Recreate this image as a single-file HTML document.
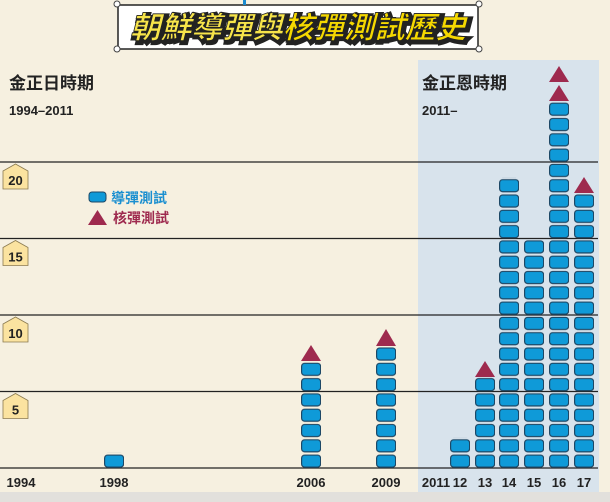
<!DOCTYPE html>
<html><head><meta charset="utf-8"><style>
html,body{margin:0;padding:0;background:#f6f0e0;}
svg{display:block;font-family:"Liberation Sans","Noto Sans CJK TC",sans-serif;}
</style></head><body>
<svg width="610" height="502" viewBox="0 0 610 502" xmlns="http://www.w3.org/2000/svg">
<defs>
<pattern id="blk" patternUnits="userSpaceOnUse" x="0" y="468" width="1000" height="15.3">
<rect x="0.6" y="2.4" width="19" height="12" rx="3" fill="#0f9ad8" stroke="#1d4866" stroke-width="1.2"/>
</pattern>
</defs>
<rect width="610" height="502" fill="#f6f0e0"/>
<rect x="0" y="492" width="610" height="10" fill="#e2e0dc"/>
<rect x="418" y="60" width="181" height="432" fill="#d8e3ec"/>
<!-- title -->
<rect x="118" y="5" width="360" height="44" fill="#fff" stroke="#222" stroke-width="1.5"/>
<g fill="#fff" stroke="#444" stroke-width="1"><circle cx="117" cy="4" r="3"/><circle cx="479" cy="4" r="3"/><circle cx="117" cy="49" r="3"/><circle cx="479" cy="49" r="3"/></g>
<rect x="243" y="0" width="3" height="5" fill="#1a8ad0"/>
<text x="300" y="40" text-anchor="middle" font-size="30" font-weight="bold" font-style="italic" fill="#222" stroke="#222" stroke-width="5" textLength="336" lengthAdjust="spacingAndGlyphs">朝鮮導彈與核彈測試歷史</text>
<text x="298" y="38" text-anchor="middle" font-size="30" font-weight="bold" font-style="italic" stroke="#222" stroke-width="0.8" textLength="336" lengthAdjust="spacingAndGlyphs"><tspan fill="#f7e44a">朝鮮導彈與</tspan><tspan fill="#f5d800">核彈測試歷史</tspan></text>
<!-- headers -->
<text x="9" y="89" font-size="17" font-weight="bold" fill="#222">金正日時期</text>
<text x="9" y="115" font-size="13" font-weight="bold" fill="#222">1994–2011</text>
<text x="422" y="89" font-size="17" font-weight="bold" fill="#222">金正恩時期</text>
<text x="422" y="115" font-size="13" font-weight="bold" fill="#222">2011–</text>
<!-- grid lines -->
<g stroke="#222" stroke-width="1.2">
<line x1="0" y1="162" x2="598" y2="162"/><line x1="0" y1="238.5" x2="598" y2="238.5"/>
<line x1="0" y1="315" x2="598" y2="315"/><line x1="0" y1="391.5" x2="598" y2="391.5"/>
<line x1="0" y1="468" x2="598" y2="468"/>
</g>
<!-- labels -->
<g fill="#fbe3a0" stroke="#8a7a50" stroke-width="0.8">
<path d="M3,171 L15.5,164 L28,171 L28,189 L3,189Z"/>
<path d="M3,247.5 L15.5,240.5 L28,247.5 L28,265.5 L3,265.5Z"/>
<path d="M3,324 L15.5,317 L28,324 L28,342 L3,342Z"/>
<path d="M3,400.5 L15.5,393.5 L28,400.5 L28,418.5 L3,418.5Z"/>
</g>
<g font-size="13" font-weight="bold" fill="#222" text-anchor="middle">
<text x="15.5" y="185">20</text><text x="15.5" y="261.5">15</text><text x="15.5" y="338">10</text><text x="15.5" y="414.5">5</text>
</g>
<!-- legend -->
<rect x="89" y="192" width="17" height="10" rx="3" fill="#0f9ad8" stroke="#1d4866"/>
<text x="111" y="203" font-size="14" font-weight="bold" fill="#1a8fd0">導彈測試</text>
<path d="M88,225 L97.5,210 L107,225Z" fill="#9e2a4e"/>
<text x="113" y="223" font-size="14" font-weight="bold" fill="#9e2a4e">核彈測試</text>
<!-- bars -->
<g fill="url(#blk)">
<g transform="translate(104,0)"><rect x="0" y="452.7" width="20" height="15.3"/></g>
<g transform="translate(301,0)"><rect x="0" y="360.9" width="20" height="107.1"/></g>
<g transform="translate(376,0)"><rect x="0" y="345.6" width="20" height="122.4"/></g>
<g transform="translate(450,0)"><rect x="0" y="437.4" width="20" height="30.6"/></g>
<g transform="translate(475,0)"><rect x="0" y="376.2" width="20" height="91.8"/></g>
<g transform="translate(499,0)"><rect x="0" y="177.3" width="20" height="290.7"/></g>
<g transform="translate(524,0)"><rect x="0" y="238.5" width="20" height="229.5"/></g>
<g transform="translate(549,0)"><rect x="0" y="100.8" width="20" height="367.2"/></g>
<g transform="translate(574,0)"><rect x="0" y="192.6" width="20" height="275.4"/></g>
</g>
<!-- triangles -->
<g fill="#9e2a4e">
<path d="M301,361 L311,345 L321,361Z"/>
<path d="M376,346 L386,329 L396,346Z"/>
<path d="M475,377 L485,361 L495,377Z"/>
<path d="M549,101 L559,85 L569,101Z"/>
<path d="M549,82 L559,66 L569,82Z"/>
<path d="M574,193 L584,177 L594,193Z"/>
</g>
<!-- x labels -->
<g font-size="13" font-weight="bold" fill="#222" text-anchor="middle">
<text x="21" y="487">1994</text><text x="114" y="487">1998</text>
<text x="311" y="487">2006</text><text x="386" y="487">2009</text>
<text x="436" y="487">2011</text><text x="460" y="487">12</text><text x="485" y="487">13</text>
<text x="509" y="487">14</text><text x="534" y="487">15</text><text x="559" y="487">16</text><text x="584" y="487">17</text>
</g>
</svg>
</body></html>
